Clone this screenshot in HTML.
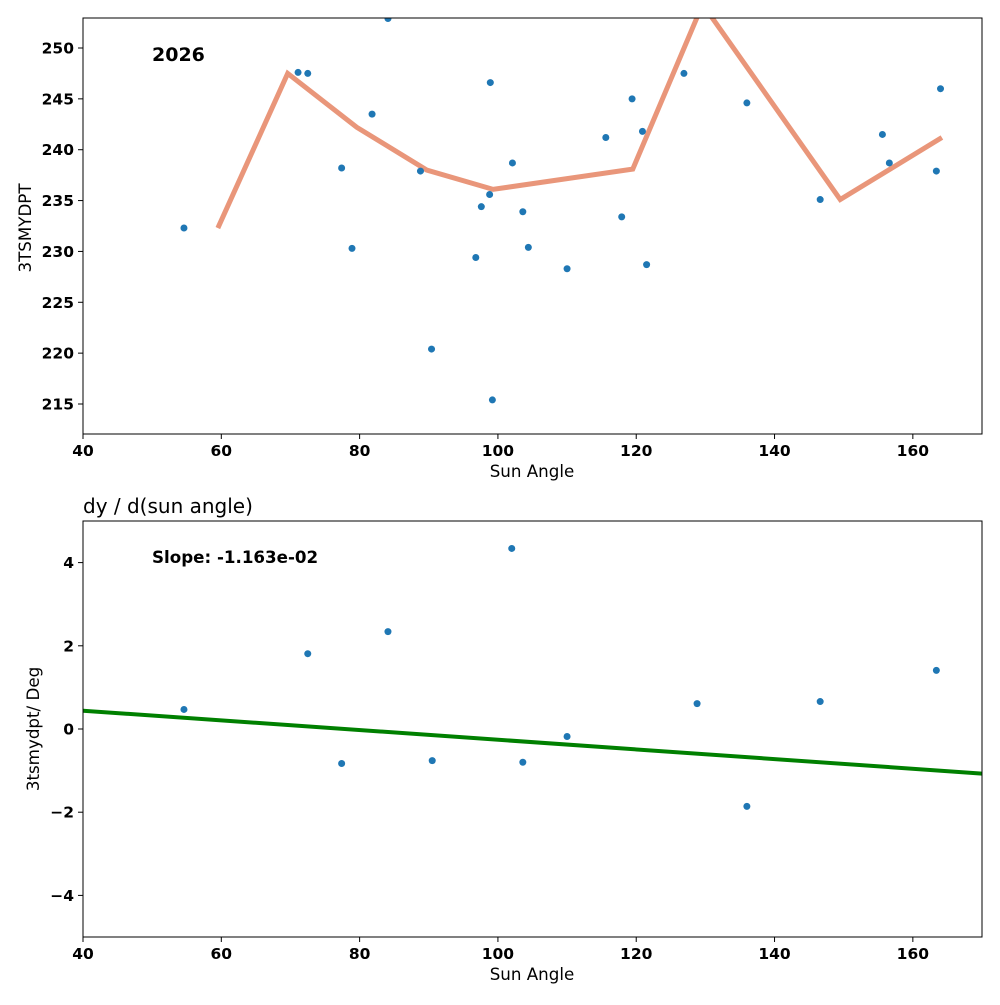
<!DOCTYPE html>
<html><head><meta charset="utf-8"><style>
body{margin:0;background:#fff;}
svg{font-family:"DejaVu Sans","Liberation Sans",sans-serif;}
</style></head><body>
<svg id="chart" width="1000" height="1000" xmlns="http://www.w3.org/2000/svg"></svg>
<script>
const topPointsX=[54.6,71.1,72.5,77.4,78.9,81.8,84.1,88.8,90.4,96.8,97.6,98.8,98.9,99.2,102.1,103.6,104.4,110,115.6,117.9,119.4,120.9,121.5,126.9,136,146.6,155.6,156.6,163.4,164];
const topPointsY=[232.3,247.6,247.5,238.2,230.3,243.5,252.9,237.9,220.4,229.4,234.4,235.6,246.6,215.4,238.7,233.9,230.4,228.3,241.2,233.4,245,241.8,228.7,247.5,244.6,235.1,241.5,238.7,237.9,246];
const trendX=[59.5,69.6,79.6,89.7,99.3,119.5,129.6,149.5,164.2];
const trendY=[232.3,247.5,242.2,238.0,236.1,238.1,254.3,235.1,241.2];
const slopeX=[54.6,72.5,77.4,84.1,90.5,102.0,103.6,110,128.8,136,146.6,163.4];
const slopeY=[0.47,1.81,-0.83,2.34,-0.76,4.34,-0.80,-0.18,0.61,-1.86,0.66,1.41];
const xTicks=[40,60,80,100,120,140,160];
const topYTicks=[215,220,225,230,235,240,245,250];
const botYTicks=[-4,-2,0,2,4];
const fitIntercept0=0.905, fitSlope=-0.01163;

const NS="http://www.w3.org/2000/svg";
const svg=document.getElementById('chart');
function el(tag,attrs,parent){const e=document.createElementNS(NS,tag);for(const k in attrs)e.setAttribute(k,attrs[k]);(parent||svg).appendChild(e);return e;}
const L=83,R=982;
const sx=v=>L+(v-40)*(R-L)/130;
function panel(top,bot,ymin,ymax,name){
  const sy=v=>bot-(v-ymin)*(bot-top)/(ymax-ymin);
  const g=el('g',{});
  
  
  const cp=el('clipPath',{id:name+'-clip'},g);
  el('rect',{x:L,y:top,width:R-L,height:bot-top},cp);
  return {g,sy,top,bot};
}
function axes(p,yTicks,fmt){
  for(const t of xTicks){
    const x=sx(t);
    el('line',{x1:x,x2:x,y1:p.bot,y2:p.bot+5,stroke:'#000','stroke-width':1},p.g);
    const tx=el('text',{x:x,y:p.bot+22,'text-anchor':'middle','font-size':15.5,'font-weight':'bold'},p.g);
    tx.textContent=t;
    
    
  }
  for(const t of yTicks){
    const y=p.sy(t);
    el('line',{x1:L-5,x2:L,y1:y,y2:y,stroke:'#000','stroke-width':1},p.g);
    const tx=el('text',{x:L-9,y:y+5.5,'text-anchor':'end','font-size':15.5,'font-weight':'bold'},p.g);
    tx.textContent=fmt(t);
    
    
  }
  const fr=el('rect',{x:L,y:p.top,width:R-L,height:p.bot-p.top,fill:'none',stroke:'#000','stroke-width':1},p.g);
  
  
}
// Top panel
const p1=panel(18,434,212.05,252.95,'top-panel');
const tl=el('polyline',{points:trendX.map((x,i)=>sx(x)+','+p1.sy(trendY[i])).join(' '),fill:'none',stroke:'#e9967a','stroke-width':5,'clip-path':'url(#top-panel-clip)'},p1.g);


topPointsX.forEach((x,i)=>{
  const c=el('circle',{cx:sx(x),cy:p1.sy(topPointsY[i]),r:3.5,fill:'#1f77b4','clip-path':'url(#top-panel-clip)'},p1.g);
  
  
});
axes(p1,topYTicks,t=>t);
let t=el('text',{x:152,y:61,'font-size':19,'font-weight':'bold'},p1.g);t.textContent='2026';

t=el('text',{x:532,y:477,'text-anchor':'middle','font-size':16.7},p1.g);t.textContent='Sun Angle';

t=el('text',{x:31,y:228,'text-anchor':'middle','font-size':16.7,transform:'rotate(-90 31 228)'},p1.g);t.textContent='3TSMYDPT';

// Bottom panel
const p2=panel(521,937,-5,5,'bottom-panel');
const fl=el('line',{x1:sx(40),y1:p2.sy(fitIntercept0+fitSlope*40),x2:sx(170),y2:p2.sy(fitIntercept0+fitSlope*170),stroke:'#008000','stroke-width':4,'clip-path':'url(#bottom-panel-clip)'},p2.g);


slopeX.forEach((x,i)=>{
  const c=el('circle',{cx:sx(x),cy:p2.sy(slopeY[i]),r:3.5,fill:'#1f77b4','clip-path':'url(#bottom-panel-clip)'},p2.g);
  
  
});
axes(p2,botYTicks,t=>t<0?'\u2212'+(-t):t);
t=el('text',{x:152,y:563,'font-size':16.7,'font-weight':'bold'},p2.g);t.textContent='Slope: -1.163e-02';

t=el('text',{x:83,y:513,'font-size':20},p2.g);t.textContent='dy / d(sun angle)';

t=el('text',{x:532,y:980,'text-anchor':'middle','font-size':16.7},p2.g);t.textContent='Sun Angle';

t=el('text',{x:39,y:729,'text-anchor':'middle','font-size':16.7,transform:'rotate(-90 39 729)'},p2.g);t.textContent='3tsmydpt/ Deg';

</script>
</body></html>
